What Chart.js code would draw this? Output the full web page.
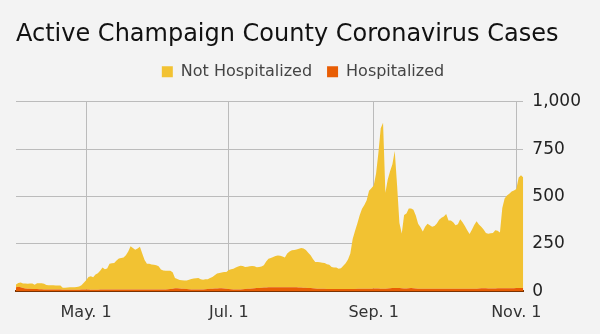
<!DOCTYPE html>
<html>
<head>
<meta charset="utf-8">
<script src="https://cdn.jsdelivr.net/npm/chart.js@4.4.1/dist/chart.umd.min.js"></script>
<style>
  html, body { margin: 0; padding: 0; background: #f3f3f3; }
  canvas { display: block; }
</style>
</head>
<body>
<canvas id="activeCases" width="600" height="334"></canvas>
<script>
// daily values, Apr. 1 to Nov. 4 (one entry per day)
const hospitalized = [
  22, 24, 22, 18, 15, 14, 13, 12, 12, 12,
  11, 11, 10, 10, 10, 9, 9, 9, 9, 9,
  8, 8, 8, 8, 8, 8, 8, 8, 9, 9,
  9, 9, 8, 8, 8, 8, 9, 9, 9, 9,
  9, 9, 9, 9, 10, 10, 10, 10, 10, 10,
  10, 10, 9, 9, 9, 9, 9, 9, 9, 9,
  9, 9, 9, 10, 10, 11, 12, 14, 16, 16,
  15, 14, 13, 12, 11, 10, 10, 10, 10, 10,
  10, 11, 12, 13, 14, 15, 15, 16, 16, 15,
  14, 12, 11, 10, 10, 10, 10, 11, 12, 13,
  14, 15, 16, 17, 18, 19, 20, 20, 21, 22,
  22, 22, 22, 22, 22, 22, 22, 21, 21, 21,
  21, 20, 20, 19, 19, 18, 17, 16, 15, 14,
  14, 13, 13, 12, 12, 12, 12, 12, 12, 12,
  12, 12, 12, 12, 12, 12, 13, 13, 13, 13,
  14, 14, 14, 15, 15, 15, 14, 14, 14, 15,
  16, 17, 18, 18, 17, 16, 15, 15, 16, 17,
  16, 15, 14, 14, 13, 13, 13, 13, 13, 13,
  13, 13, 13, 13, 14, 14, 14, 14, 14, 14,
  14, 14, 14, 14, 13, 13, 13, 14, 15, 16,
  16, 16, 15, 15, 15, 15, 16, 16, 16, 16,
  16, 16, 16, 16, 17, 17, 17, 17
];

const notHospitalized = [
  14, 20, 24, 23, 26, 26, 28, 29, 22, 31,
  32, 31, 30, 23, 22, 23, 23, 22, 22, 21,
  11, 11, 12, 13, 13, 14, 15, 17, 23, 36,
  49, 67, 72, 66, 80, 87, 99, 117, 107, 111,
  137, 139, 141, 153, 163, 166, 168, 180, 200, 228,
  218, 209, 217, 226, 191, 156, 137, 136, 133, 131,
  128, 123, 106, 100, 99, 98, 97, 86, 54, 49,
  45, 44, 44, 45, 50, 55, 58, 59, 60, 54,
  51, 52, 52, 57, 62, 70, 79, 80, 83, 87,
  88, 101, 106, 109, 116, 121, 125, 123, 116, 116,
  118, 119, 116, 110, 110, 112, 118, 137, 151, 154,
  159, 164, 167, 165, 162, 156, 178, 189, 195, 197,
  199, 204, 208, 207, 199, 186, 173, 154, 140, 140,
  139, 138, 137, 131, 128, 116, 114, 113, 107, 110,
  123, 136, 156, 188, 264, 306, 345, 388, 423, 443,
  467, 516, 530, 543, 605, 715, 846, 876, 506, 575,
  617, 653, 722, 542, 343, 289, 388, 395, 421, 420,
  414, 385, 343, 324, 302, 327, 344, 335, 327, 332,
  345, 365, 375, 382, 394, 360, 360, 351, 334, 340,
  366, 351, 331, 308, 290, 312, 337, 355, 337, 324,
  310, 292, 289, 291, 293, 307, 304, 294, 424, 474,
  489, 499, 511, 516, 523, 583, 595, 584
];

// day numbers counted from Apr. 1
const tickDays = [30, 91, 153, 214];
const tickLabels = ['May. 1', 'Jul. 1', 'Sep. 1', 'Nov. 1'];
const yTicks = [0, 250, 500, 750, 1000];

const dayIndex = notHospitalized.map((_, i) => i);
const font = '"DejaVu Sans", Verdana, sans-serif';

// extra room under the legend
const legendGap = {
  id: 'legendGap',
  beforeInit(chart) {
    const fit = chart.legend.fit;
    chart.legend.fit = function() {
      fit.bind(chart.legend)();
      this.height += 12;
    };
  },
};

const ctx = document.getElementById('activeCases').getContext('2d');
const chart = new Chart(ctx, {
  type: 'line',
  data: {
    labels: dayIndex,
    datasets: [
      {
        label: 'Hospitalized',
        data: hospitalized,
        backgroundColor: '#e85d04',
        borderColor: '#e85d04',
        borderWidth: 0,
        pointRadius: 0,
        fill: 'origin',
      },
      {
        label: 'Not Hospitalized',
        data: notHospitalized,
        backgroundColor: '#f2c232',
        borderColor: '#f2c232',
        borderWidth: 0,
        pointRadius: 0,
        fill: '-1',
      },
    ],
  },
  plugins: [legendGap],
  options: {
    responsive: false,
    animation: false,
    devicePixelRatio: 1,
    layout: { padding: { left: 16, right: 10, top: 0, bottom: 0.5 } },
    plugins: {
      title: {
        display: true,
        text: 'Active Champaign County Coronavirus Cases',
        align: 'start',
        color: '#111',
        font: { family: font, size: 24, weight: 'normal' },
        padding: { top: 20, bottom: 0 },
      },
      legend: {
        display: true,
        reverse: true,
        position: 'top',
        labels: {
          boxWidth: 11,
          boxHeight: 11,
          padding: 15,
          color: '#444',
          font: { family: font, size: 16 },
        },
      },
      tooltip: { enabled: false },
    },
    scales: {
      x: {
        type: 'linear',
        min: 0,
        max: dayIndex.length - 1,
        afterBuildTicks: axis => { axis.ticks = tickDays.map(v => ({ value: v })) },
        ticks: {
          autoSkip: false,
          maxRotation: 0,
          padding: 11.5,
          color: '#333',
          font: { family: font, size: 16 },
          callback: v => tickLabels[tickDays.indexOf(v)],
        },
        grid: { color: '#bbb', lineWidth: 1, drawTicks: false },
        border: { display: true, color: '#7a3300', width: 2 },
      },
      y: {
        position: 'right',
        stacked: true,
        min: 0,
        max: 1000,
        afterBuildTicks: axis => { axis.ticks = yTicks.map(v => ({ value: v })) },
        ticks: {
          padding: 9,
          color: '#222',
          font: { family: font, size: 17 },
          callback: v => v.toLocaleString('en-US'),
        },
        grid: { color: '#bbb', lineWidth: 1, drawTicks: false },
        border: { display: false },
      },
    },
  },
});
</script>
</body>
</html>
